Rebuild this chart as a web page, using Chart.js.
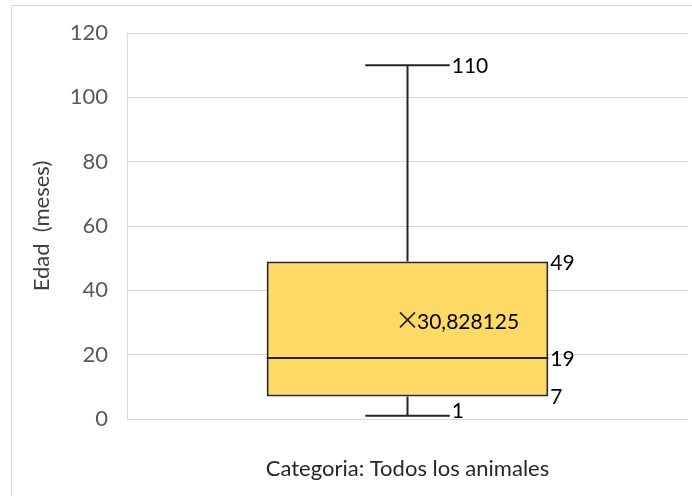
<!DOCTYPE html>
<html>
<head>
<meta charset="utf-8">
<script src="https://cdn.jsdelivr.net/npm/chart.js@4/dist/chart.umd.min.js"></script>
<style>
  html, body { margin: 0; padding: 0; background: #ffffff; }
  #wrap { width: 692px; height: 496px; position: relative; }
</style>
</head>
<body>
<div id="wrap"><canvas id="c" width="692" height="496"></canvas></div>
<script>
// Box plot summary: age in months for all animals
const categories = ['Categoria: Todos los animales'];
const minValues = [1];
const q1Values = [7];
const medianValues = [19];
const q3Values = [49];
const maxValues = [110];
const meanValues = [30.828125];

const yMin = 0, yMax = 120, yStep = 20;

const FONT = 'Lato, "Open Sans", sans-serif';
const INK = '#262626';

function fmt(v) { return String(v).replace('.', ','); }

// Whiskers, median, mean marker and value labels drawn on top of the box bars
const boxExtras = {
  id: 'boxExtras',
  beforeDraw(chart) {
    const ctx = chart.ctx;
    ctx.save();
    ctx.fillStyle = '#ffffff';
    ctx.fillRect(0, 0, chart.width, chart.height);
    ctx.strokeStyle = '#d9d9d9';
    ctx.lineWidth = 1;
    ctx.strokeRect(11.5, 5.5, chart.width + 20, chart.height + 20);
    ctx.restore();
  },
  afterDatasetsDraw(chart) {
    const ctx = chart.ctx;
    const y = chart.scales.y;
    const meta = chart.getDatasetMeta(0);
    ctx.save();
    meta.data.forEach((bar, i) => {
      const cx = bar.x;
      const half = bar.width / 2;
      const left = cx - half, right = cx + half;
      const capHalf = bar.width * 0.15;
      const pMin = y.getPixelForValue(minValues[i]);
      const pQ1 = y.getPixelForValue(q1Values[i]);
      const pMed = y.getPixelForValue(medianValues[i]);
      const pQ3 = y.getPixelForValue(q3Values[i]);
      const pMax = y.getPixelForValue(maxValues[i]);
      const pMean = y.getPixelForValue(meanValues[i]);

      ctx.strokeStyle = INK;
      ctx.lineWidth = 2;
      ctx.beginPath();
      // upper whisker and cap
      ctx.moveTo(cx, pQ3); ctx.lineTo(cx, pMax);
      ctx.moveTo(cx - capHalf, pMax); ctx.lineTo(cx + capHalf, pMax);
      // lower whisker and cap
      ctx.moveTo(cx, pQ1); ctx.lineTo(cx, pMin);
      ctx.moveTo(cx - capHalf, pMin); ctx.lineTo(cx + capHalf, pMin);
      // median
      ctx.moveTo(left, pMed); ctx.lineTo(right, pMed);
      ctx.stroke();

      // mean marker
      const m = 7.5;
      ctx.lineWidth = 1.8;
      ctx.beginPath();
      ctx.moveTo(cx - m, pMean - m); ctx.lineTo(cx + m, pMean + m);
      ctx.moveTo(cx - m, pMean + m); ctx.lineTo(cx + m, pMean - m);
      ctx.stroke();

      // value labels
      ctx.fillStyle = '#000000';
      ctx.font = '21px ' + FONT;
      ctx.textAlign = 'left';
      ctx.textBaseline = 'middle';
      ctx.fillText(fmt(maxValues[i]), cx + capHalf + 2, pMax + 1);
      ctx.fillText(fmt(minValues[i]), cx + capHalf + 2, pMin - 5);
      ctx.fillText(fmt(q3Values[i]), right + 2, pQ3 + 2);
      ctx.fillText(fmt(medianValues[i]), right + 2, pMed + 1);
      ctx.fillText(fmt(q1Values[i]), right + 2, pQ1 + 1);
      ctx.fillText(fmt(meanValues[i]), cx + m + 2, pMean + 2);
    });
    ctx.restore();
  }
};

new Chart(document.getElementById('c'), {
  type: 'bar',
  data: {
    labels: categories,
    datasets: [{
      label: 'Edad',
      data: categories.map((c, i) => [q1Values[i], q3Values[i]]),
      backgroundColor: '#FFD966',
      borderColor: INK,
      borderWidth: 2,
      borderSkipped: false,
      barPercentage: 0.502,
      categoryPercentage: 1
    }]
  },
  options: {
    responsive: false,
    animation: false,
    devicePixelRatio: 1,
    layout: { padding: { top: 33, right: 4, left: 0, bottom: 0 } },
    plugins: {
      legend: { display: false },
      tooltip: { enabled: false }
    },
    scales: {
      x: {
        grid: { display: false, drawTicks: false },
        border: { display: false },
        ticks: {
          color: INK,
          font: { family: FONT, size: 22 },
          padding: 37,
          maxRotation: 0
        },
        afterFit(scale) { scale.height = 77; }
      },
      y: {
        min: yMin,
        max: yMax,
        ticks: {
          stepSize: yStep,
          color: '#595959',
          font: { family: FONT, size: 22 },
          padding: 19
        },
        grid: { color: '#d9d9d9', lineWidth: 1, drawTicks: false },
        border: { display: true, color: '#d9d9d9', width: 1 },
        title: {
          display: true,
          text: 'Edad  (meses)',
          color: '#404040',
          font: { family: FONT, size: 22 },
          padding: { top: 29, bottom: 0 }
        },
        afterFit(scale) { scale.width = 127; }
      }
    }
  },
  plugins: [boxExtras]
});
</script>
</body>
</html>
